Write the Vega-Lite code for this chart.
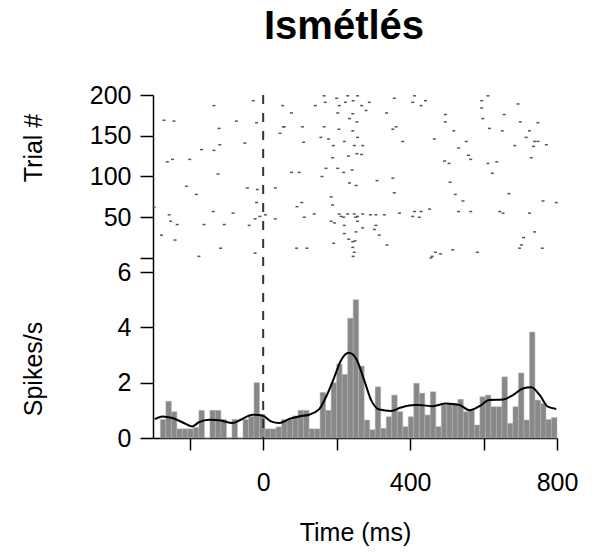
{
  "$schema": "https://vega.github.io/schema/vega-lite/v6.json",
  "width": 404,
  "height": 343,
  "autosize": {"type": "none"},
  "padding": {"left": 153, "top": 95, "right": 39, "bottom": 114},
  "background": "white",
  "config": {
    "view": {"stroke": null},
    "font": "Liberation Sans",
    "axis": {
      "grid": false,
      "domainColor": "#000000",
      "domainWidth": 1.5,
      "tickColor": "#000000",
      "tickWidth": 1.5,
      "labelColor": "#000000",
      "titleColor": "#000000",
      "labelFont": "Liberation Sans",
      "titleFont": "Liberation Sans",
      "labelFontSize": 25,
      "titleFontSize": 25,
      "titleFontWeight": "normal"
    }
  },
  "title": {
    "text": "Ismétlés",
    "fontSize": 40,
    "fontWeight": "bold",
    "font": "Liberation Sans",
    "color": "#000000",
    "anchor": "middle",
    "frame": "group",
    "dx": -11,
    "offset": 4,
    "baseline": "alphabetic"
  },
  "datasets": {
    "raster": [
      {"t": -134, "trial": 187}, {"t": -27, "trial": 193}, {"t": 53, "trial": 187}, {"t": -270, "trial": 169},
      {"t": -243, "trial": 168}, {"t": -120, "trial": 159}, {"t": -73, "trial": 168}, {"t": -18, "trial": 166},
      {"t": 55, "trial": 161}, {"t": 46, "trial": 153}, {"t": -50, "trial": 141}, {"t": -168, "trial": 133},
      {"t": -134, "trial": 132}, {"t": -118, "trial": 139}, {"t": -261, "trial": 118}, {"t": -247, "trial": 121},
      {"t": -200, "trial": 121}, {"t": -123, "trial": 103}, {"t": -209, "trial": 88}, {"t": -182, "trial": 78},
      {"t": -43, "trial": 86}, {"t": -16, "trial": 84}, {"t": 33, "trial": 86}, {"t": -18, "trial": 68},
      {"t": -297, "trial": 62}, {"t": -256, "trial": 53}, {"t": -252, "trial": 45}, {"t": -136, "trial": 57},
      {"t": -82, "trial": 55}, {"t": -22, "trial": 48}, {"t": -9, "trial": 51}, {"t": 6, "trial": 53},
      {"t": 33, "trial": 48}, {"t": -234, "trial": 41}, {"t": -161, "trial": 41}, {"t": -106, "trial": 41},
      {"t": -38, "trial": 40}, {"t": -277, "trial": 28}, {"t": -240, "trial": 22}, {"t": -116, "trial": 12},
      {"t": -175, "trial": 2}, {"t": -22, "trial": 6},
      {"t": 166, "trial": 199}, {"t": 200, "trial": 196}, {"t": 230, "trial": 199}, {"t": 257, "trial": 199},
      {"t": 245, "trial": 193}, {"t": 224, "trial": 191}, {"t": 169, "trial": 191}, {"t": 142, "trial": 187},
      {"t": 207, "trial": 187}, {"t": 268, "trial": 187}, {"t": 289, "trial": 191}, {"t": 280, "trial": 181},
      {"t": 77, "trial": 178}, {"t": 203, "trial": 178}, {"t": 244, "trial": 177}, {"t": 235, "trial": 171},
      {"t": 255, "trial": 167}, {"t": 336, "trial": 178}, {"t": 357, "trial": 196}, {"t": 412, "trial": 199},
      {"t": 407, "trial": 191}, {"t": 430, "trial": 187}, {"t": 107, "trial": 161}, {"t": 166, "trial": 161},
      {"t": 206, "trial": 158}, {"t": 244, "trial": 156}, {"t": 362, "trial": 161}, {"t": 353, "trial": 158},
      {"t": 57, "trial": 161}, {"t": 157, "trial": 148}, {"t": 178, "trial": 146}, {"t": 221, "trial": 143},
      {"t": 257, "trial": 148}, {"t": 110, "trial": 142}, {"t": 380, "trial": 143}, {"t": 191, "trial": 138},
      {"t": 248, "trial": 138}, {"t": 271, "trial": 138}, {"t": 232, "trial": 125}, {"t": 255, "trial": 128},
      {"t": 268, "trial": 127}, {"t": 189, "trial": 123}, {"t": 77, "trial": 105}, {"t": 98, "trial": 105},
      {"t": 171, "trial": 110}, {"t": 203, "trial": 110}, {"t": 242, "trial": 108}, {"t": 219, "trial": 105},
      {"t": 160, "trial": 100}, {"t": 235, "trial": 92}, {"t": 253, "trial": 89}, {"t": 310, "trial": 95},
      {"t": 353, "trial": 98}, {"t": 357, "trial": 80}, {"t": 185, "trial": 75}, {"t": 105, "trial": 68},
      {"t": 92, "trial": 63}, {"t": 189, "trial": 65}, {"t": 112, "trial": 50}, {"t": 139, "trial": 54},
      {"t": 207, "trial": 54}, {"t": 212, "trial": 51}, {"t": 219, "trial": 50}, {"t": 230, "trial": 54},
      {"t": 248, "trial": 54}, {"t": 252, "trial": 50}, {"t": 257, "trial": 51}, {"t": 271, "trial": 54},
      {"t": 292, "trial": 53}, {"t": 307, "trial": 53}, {"t": 330, "trial": 53}, {"t": 371, "trial": 55},
      {"t": 407, "trial": 51}, {"t": 412, "trial": 57}, {"t": 430, "trial": 57}, {"t": 185, "trial": 45},
      {"t": 194, "trial": 43}, {"t": 257, "trial": 45}, {"t": 221, "trial": 40}, {"t": 271, "trial": 37},
      {"t": 307, "trial": 40}, {"t": 303, "trial": 35}, {"t": 221, "trial": 30}, {"t": 253, "trial": 32},
      {"t": 316, "trial": 28}, {"t": 233, "trial": 23}, {"t": 244, "trial": 20}, {"t": 250, "trial": 21},
      {"t": 192, "trial": 18}, {"t": 337, "trial": 16}, {"t": 91, "trial": 12}, {"t": 119, "trial": 12},
      {"t": 244, "trial": 13}, {"t": 248, "trial": 7}, {"t": 245, "trial": 2},
      {"t": 612, "trial": 199}, {"t": 442, "trial": 193}, {"t": 595, "trial": 193}, {"t": 595, "trial": 184},
      {"t": 694, "trial": 189}, {"t": 496, "trial": 176}, {"t": 656, "trial": 176}, {"t": 598, "trial": 171},
      {"t": 700, "trial": 167}, {"t": 748, "trial": 166}, {"t": 496, "trial": 167}, {"t": 519, "trial": 156},
      {"t": 616, "trial": 159}, {"t": 651, "trial": 156}, {"t": 725, "trial": 156}, {"t": 466, "trial": 146},
      {"t": 553, "trial": 143}, {"t": 716, "trial": 148}, {"t": 739, "trial": 143}, {"t": 748, "trial": 143},
      {"t": 532, "trial": 135}, {"t": 685, "trial": 138}, {"t": 736, "trial": 137}, {"t": 771, "trial": 139},
      {"t": 559, "trial": 126}, {"t": 565, "trial": 121}, {"t": 730, "trial": 123}, {"t": 494, "trial": 119},
      {"t": 506, "trial": 116}, {"t": 612, "trial": 116}, {"t": 636, "trial": 118}, {"t": 624, "trial": 104},
      {"t": 509, "trial": 93}, {"t": 669, "trial": 79}, {"t": 523, "trial": 78}, {"t": 544, "trial": 70},
      {"t": 762, "trial": 70}, {"t": 798, "trial": 68}, {"t": 453, "trial": 60}, {"t": 425, "trial": 50},
      {"t": 532, "trial": 57}, {"t": 565, "trial": 57}, {"t": 644, "trial": 57}, {"t": 653, "trial": 55},
      {"t": 725, "trial": 55}, {"t": 739, "trial": 32}, {"t": 709, "trial": 25}, {"t": 703, "trial": 16},
      {"t": 698, "trial": 12}, {"t": 760, "trial": 12}, {"t": 516, "trial": 10}, {"t": 583, "trial": 7},
      {"t": 469, "trial": 7}, {"t": 483, "trial": 5}, {"t": 460, "trial": 2}, {"t": 457, "trial": 0}
    ],
    "hist": [
      {"t": -280, "t2": -265, "rate": 0.67}, {"t": -265, "t2": -250, "rate": 1.33},
      {"t": -250, "t2": -235, "rate": 0.95}, {"t": -235, "t2": -220, "rate": 0.33},
      {"t": -220, "t2": -205, "rate": 0.33}, {"t": -205, "t2": -190, "rate": 0.33},
      {"t": -190, "t2": -175, "rate": 0.38}, {"t": -175, "t2": -160, "rate": 1.0},
      {"t": -160, "t2": -145, "rate": 0}, {"t": -145, "t2": -130, "rate": 1.0},
      {"t": -130, "t2": -115, "rate": 1.0}, {"t": -115, "t2": -100, "rate": 0.67},
      {"t": -100, "t2": -85, "rate": 0}, {"t": -85, "t2": -70, "rate": 0.67},
      {"t": -70, "t2": -55, "rate": 0}, {"t": -55, "t2": -40, "rate": 0.67},
      {"t": -40, "t2": -25, "rate": 0.78}, {"t": -25, "t2": -10, "rate": 2.0},
      {"t": -10, "t2": 5, "rate": 0.85}, {"t": 5, "t2": 20, "rate": 0.33},
      {"t": 20, "t2": 35, "rate": 0.33}, {"t": 35, "t2": 50, "rate": 0.4},
      {"t": 50, "t2": 65, "rate": 0.67}, {"t": 65, "t2": 80, "rate": 0.67},
      {"t": 80, "t2": 95, "rate": 0.8}, {"t": 95, "t2": 110, "rate": 1.0},
      {"t": 110, "t2": 125, "rate": 1.0}, {"t": 125, "t2": 140, "rate": 0.33},
      {"t": 140, "t2": 155, "rate": 0.33}, {"t": 155, "t2": 170, "rate": 1.65},
      {"t": 170, "t2": 185, "rate": 1.0}, {"t": 185, "t2": 200, "rate": 2.0},
      {"t": 200, "t2": 215, "rate": 2.67}, {"t": 215, "t2": 230, "rate": 2.3},
      {"t": 230, "t2": 245, "rate": 4.33}, {"t": 245, "t2": 260, "rate": 5.0},
      {"t": 260, "t2": 275, "rate": 2.6}, {"t": 275, "t2": 290, "rate": 0.65},
      {"t": 290, "t2": 305, "rate": 0.3}, {"t": 305, "t2": 320, "rate": 1.85},
      {"t": 320, "t2": 335, "rate": 0.35}, {"t": 335, "t2": 350, "rate": 0.77},
      {"t": 350, "t2": 365, "rate": 1.55}, {"t": 365, "t2": 380, "rate": 0.95},
      {"t": 380, "t2": 395, "rate": 0.41}, {"t": 395, "t2": 410, "rate": 0.77},
      {"t": 410, "t2": 425, "rate": 1.98}, {"t": 425, "t2": 440, "rate": 1.62},
      {"t": 440, "t2": 455, "rate": 0.83}, {"t": 455, "t2": 470, "rate": 1.67},
      {"t": 470, "t2": 485, "rate": 0.41}, {"t": 485, "t2": 500, "rate": 1.19},
      {"t": 500, "t2": 515, "rate": 1.25}, {"t": 515, "t2": 530, "rate": 1.25},
      {"t": 530, "t2": 545, "rate": 1.4}, {"t": 545, "t2": 560, "rate": 0.95},
      {"t": 560, "t2": 575, "rate": 1.0}, {"t": 575, "t2": 590, "rate": 0.47},
      {"t": 590, "t2": 605, "rate": 1.49}, {"t": 605, "t2": 620, "rate": 1.55},
      {"t": 620, "t2": 635, "rate": 1.13}, {"t": 635, "t2": 650, "rate": 1.13},
      {"t": 650, "t2": 665, "rate": 2.21}, {"t": 665, "t2": 680, "rate": 0.53},
      {"t": 680, "t2": 695, "rate": 1.13}, {"t": 695, "t2": 710, "rate": 2.35},
      {"t": 710, "t2": 725, "rate": 0.65}, {"t": 725, "t2": 740, "rate": 3.83},
      {"t": 740, "t2": 755, "rate": 1.37}, {"t": 755, "t2": 770, "rate": 1.25},
      {"t": 770, "t2": 785, "rate": 0.67}, {"t": 785, "t2": 800, "rate": 0.74}
    ],
    "smooth": [
      {"t": -295, "rate": 0.68}, {"t": -274, "rate": 0.78}, {"t": -247, "rate": 0.72}, {"t": -220, "rate": 0.57},
      {"t": -193, "rate": 0.42}, {"t": -175, "rate": 0.57}, {"t": -147, "rate": 0.66}, {"t": -115, "rate": 0.63},
      {"t": -84, "rate": 0.54}, {"t": -61, "rate": 0.66}, {"t": -29, "rate": 0.84}, {"t": -2, "rate": 0.81},
      {"t": 21, "rate": 0.6}, {"t": 44, "rate": 0.54}, {"t": 71, "rate": 0.69}, {"t": 98, "rate": 0.78},
      {"t": 125, "rate": 0.84}, {"t": 153, "rate": 1.05}, {"t": 175, "rate": 1.6}, {"t": 194, "rate": 2.21},
      {"t": 212, "rate": 2.81}, {"t": 233, "rate": 3.08}, {"t": 253, "rate": 2.87}, {"t": 275, "rate": 2.09},
      {"t": 294, "rate": 1.37}, {"t": 316, "rate": 1.03}, {"t": 348, "rate": 0.98}, {"t": 375, "rate": 1.1},
      {"t": 412, "rate": 1.19}, {"t": 425, "rate": 1.19}, {"t": 462, "rate": 1.15}, {"t": 498, "rate": 1.25},
      {"t": 535, "rate": 1.19}, {"t": 562, "rate": 1.0}, {"t": 589, "rate": 1.15}, {"t": 616, "rate": 1.37},
      {"t": 653, "rate": 1.39}, {"t": 680, "rate": 1.55}, {"t": 707, "rate": 1.79}, {"t": 730, "rate": 1.83},
      {"t": 753, "rate": 1.55}, {"t": 775, "rate": 1.13}, {"t": 798, "rate": 1.05}
    ]
  },
  "layer": [
    {
      "data": {"name": "raster"},
      "mark": {"type": "point", "shape": "M-1,-0.5H1V0.5H-1Z", "filled": true, "size": 9, "color": "#555555", "opacity": 1},
      "encoding": {
        "x": {
          "field": "t", "type": "quantitative",
          "scale": {"domain": [-300, 800], "nice": false, "zero": false},
          "axis": {
            "title": "Time (ms)",
            "values": [-200, 0, 200, 400, 600, 800],
            "labelExpr": "(datum.value == 0 || datum.value == 400 || datum.value == 800) ? datum.label : ''",
            "labelFlush": false,
            "tickSize": 12,
            "labelPadding": 20,
            "titleBaseline": "alphabetic",
            "titleY": 102
          }
        },
        "y": {
          "field": "trial", "type": "quantitative",
          "scale": {"domain": [-17.2, 200], "range": [177, 0], "nice": false, "zero": false},
          "axis": {
            "orient": "left",
            "title": "Trial #",
            "values": [0, 50, 100, 150, 200],
            "labelExpr": "datum.value == 0 ? '' : datum.label",
            "tickSize": 13,
            "labelPadding": 9,
            "titleAngle": -90,
            "titleAlign": "center",
            "titleBaseline": "alphabetic",
            "titleX": -112,
            "titleY": 52.5
          }
        }
      }
    },
    {
      "layer": [
        {
          "data": {"name": "hist"},
          "mark": {"type": "rect", "color": "#888888", "stroke": "#b5b5b5", "strokeWidth": 0.5},
          "encoding": {
            "x": {"field": "t", "type": "quantitative", "title": "Time (ms)"},
            "x2": {"field": "t2"},
            "y": {
              "field": "rate", "type": "quantitative",
              "scale": {"domain": [0, 6], "range": [343, 177], "nice": false, "zero": false},
              "axis": {
                "orient": "left",
                "title": "Spikes/s",
                "values": [0, 2, 4, 6],
                "format": "d",
                "tickSize": 13,
                "labelPadding": 9,
                "titleAngle": -90,
                "titleAlign": "center",
                "titleBaseline": "alphabetic",
                "titleX": -112,
                "titleY": 273.5
              }
            },
            "y2": {"datum": 0}
          }
        },
        {
          "data": {"values": [{"t": 0}]},
          "mark": {"type": "rule", "color": "#333333", "strokeWidth": 2, "strokeDash": [9, 9]},
          "encoding": {
            "x": {"field": "t", "type": "quantitative", "title": "Time (ms)"}
          }
        },
        {
          "data": {"name": "smooth"},
          "mark": {"type": "line", "color": "#000000", "strokeWidth": 2, "interpolate": "monotone"},
          "encoding": {
            "x": {"field": "t", "type": "quantitative", "title": "Time (ms)"},
            "y": {"field": "rate", "type": "quantitative", "title": "Spikes/s"}
          }
        }
      ]
    }
  ],
  "resolve": {"scale": {"y": "independent"}, "axis": {"y": "independent"}}
}
